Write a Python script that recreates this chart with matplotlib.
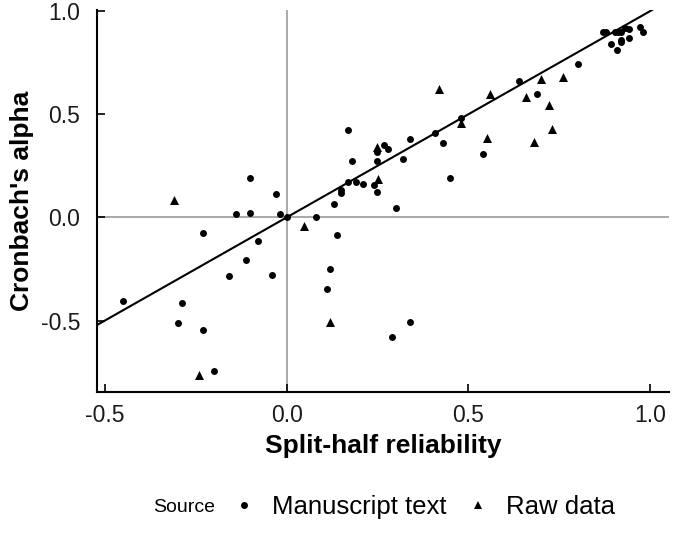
import matplotlib
matplotlib.use("Agg")
import matplotlib.pyplot as plt
from matplotlib.lines import Line2D

plt.rcParams['font.family'] = ['Liberation Sans', 'DejaVu Sans']

# Manuscript text (circles)
ms_x = [-0.450, -0.100, -0.030, -0.140, -0.100, -0.019, 0.000, 0.080, 0.130, 0.150,
        0.150, 0.170, 0.190, 0.180, 0.170, 0.210, 0.240, 0.249, 0.300, 0.249,
        0.249, 0.269, 0.280, 0.320, 0.340, 0.409, 0.429, 0.450, 0.480, 0.539,
        0.640, 0.689, 0.800,
        0.869, 0.879, 0.891, 0.902, 0.911, 0.919, 0.931, 0.941, 0.920, 0.920,
        0.909, 0.941, 0.971, 0.981,
        -0.230, -0.080, -0.111, -0.159, -0.040, -0.289, -0.300, -0.230, -0.201,
        0.139, 0.120, 0.111, 0.290, 0.338]
ms_y = [-0.403, 0.191, 0.112, 0.015, 0.023, 0.015, 0.000, 0.000, 0.063, 0.131,
        0.118, 0.171, 0.171, 0.273, 0.422, 0.163, 0.155, 0.123, 0.045, 0.272,
        0.317, 0.352, 0.331, 0.282, 0.382, 0.411, 0.361, 0.193, 0.484, 0.309,
        0.660, 0.600, 0.741,
        0.900, 0.900, 0.842, 0.900, 0.900, 0.897, 0.918, 0.911, 0.861, 0.848,
        0.811, 0.871, 0.921, 0.900,
        -0.076, -0.112, -0.205, -0.282, -0.277, -0.416, -0.513, -0.545, -0.746,
        -0.083, -0.249, -0.346, -0.578, -0.507]

# Raw data (triangles)
raw_x = [-0.310, 0.049, 0.120, -0.241, 0.250, 0.249, 0.420, 0.480, 0.550, 0.560,
         0.658, 0.700, 0.680, 0.721, 0.730, 0.759]
raw_y = [0.083, -0.044, -0.508, -0.762, 0.186, 0.341, 0.620, 0.458, 0.387, 0.596,
         0.584, 0.673, 0.366, 0.544, 0.426, 0.678]

x_ticks = [-0.5, 0.0, 0.5, 1.0]
y_ticks = [-0.5, 0.0, 0.5, 1.0]
tick_labels = ["-0.5", "0.0", "0.5", "1.0"]

fig = plt.figure(figsize=(6.8, 5.44), dpi=100)
ax = fig.add_axes([97/680, 1-392/544, (669-97)/680, (392-10)/544])

ax.axhline(0, color='#A3A3A3', lw=1.3, zorder=1)
ax.axvline(0, color='#A3A3A3', lw=1.3, zorder=1)
ax.axline((0, 0), slope=1, color='black', lw=1.5, zorder=2)

ax.scatter(ms_x, ms_y, marker='o', s=25, color='black', linewidths=0, zorder=3)
ax.scatter(raw_x, raw_y, marker='^', s=42, color='black', linewidths=0, zorder=3)

ax.set_xlim(-0.5215, 1.0515)
ax.set_ylim(-0.846, 1.005)

for s in ['top', 'right']:
    ax.spines[s].set_visible(False)
for s in ['left', 'bottom']:
    ax.spines[s].set_linewidth(1.5)
    ax.spines[s].set_color('black')

ax.set_xticks(x_ticks)
ax.set_xticklabels(tick_labels)
ax.set_yticks(y_ticks)
ax.set_yticklabels(tick_labels)
ax.tick_params(axis='both', direction='in', length=6, width=1.2, color='black',
               labelsize=16.5, labelcolor='#1a1a1a')
ax.tick_params(axis='x', pad=9)
ax.tick_params(axis='y', pad=12)

ax.set_xlabel("Split-half reliability", fontsize=19, fontweight='bold')
ax.set_ylabel("Cronbach's alpha", fontsize=19, fontweight='bold')
ax.xaxis.set_label_coords(0.5, -0.110)
ax.yaxis.set_label_coords(-0.110, 0.5)

handles = [Line2D([], [], marker='o', ls='none', color='black', markersize=5.0, markeredgewidth=0),
           Line2D([], [], marker='^', ls='none', color='black', markersize=6.2, markeredgewidth=0)]
fig.legend(handles, ["Manuscript text", "Raw data"], loc='center left',
           bbox_to_anchor=(231/680, 1-507/544), ncol=2, frameon=False,
           fontsize=18.5, handlelength=1.0, handletextpad=0.6,
           columnspacing=0.72, borderpad=0, borderaxespad=0)
fig.text(153/680, 1-507/544, "Source", fontsize=14, ha='left', va='center')

fig.savefig("out.png", dpi=100)
